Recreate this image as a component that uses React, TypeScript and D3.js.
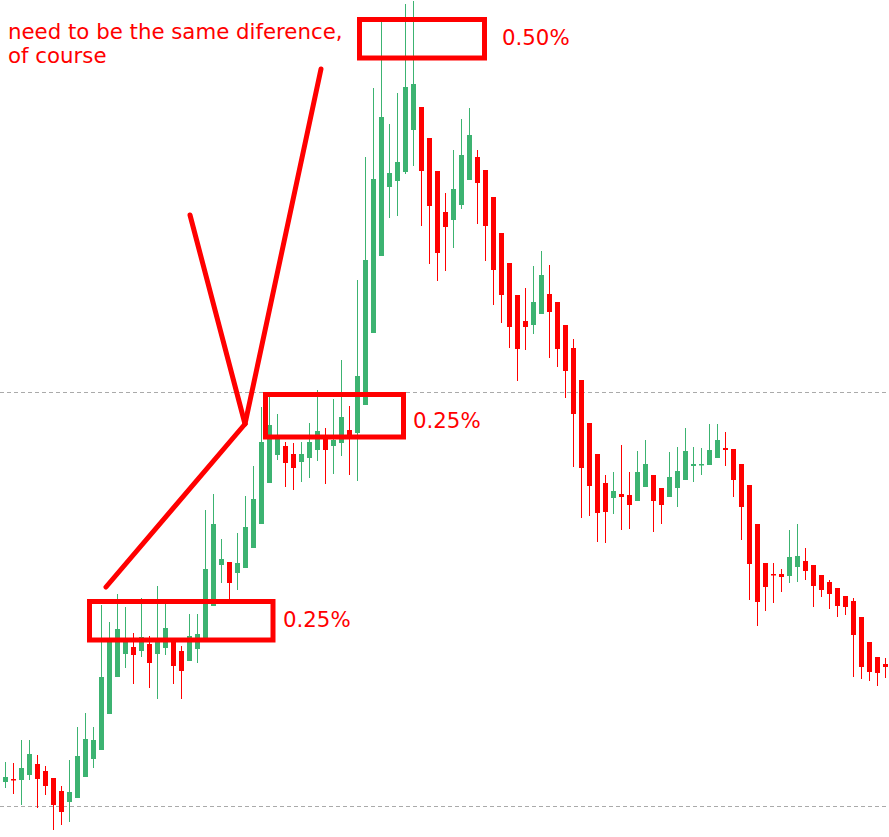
import React from "react";
import * as d3 from "d3";

// Candle values (price units, higher = up)
const opens = [55,58,57,62,73,66,59,46,35,39,60,78,87,123,160,183,190,186,193,183,189,196,186,176,188,199,231,272,275,264,269,289,313,354,382,391,383,375,379,387,398,391,394,407,404,432,504,581,650,656,665,707,730,699,666,625,617,632,657,680,667,640,604,574,542,516,512,523,543,535,512,489,457,414,383,354,339,343,342,336,350,362,349,340,349,357,371,372,372,379,389,388,373,352,313,274,263,263,261,270,276,272,262,255,249,241,236,220,195,180,173];
const highs = [75,74,97,97,82,71,59,51,77,110,124,110,232,215,243,230,204,239,201,251,234,197,191,223,223,327,343,298,275,304,341,371,430,440,423,395,394,395,414,447,409,438,477,431,557,680,749,815,713,744,833,836,730,699,666,644,687,718,729,687,667,640,604,574,542,549,571,586,572,535,512,498,457,414,383,362,365,392,365,386,397,362,349,385,390,409,390,389,413,413,405,388,373,352,313,274,274,268,307,313,289,272,262,257,249,241,239,220,195,180,179];
const lows = [49,43,32,57,29,42,7,12,15,39,60,69,87,123,160,169,153,180,149,138,182,153,138,176,174,199,231,254,237,247,269,289,313,354,377,350,347,355,359,376,353,363,381,362,356,432,504,581,619,621,663,671,611,573,556,566,589,628,657,613,576,532,514,489,456,487,503,523,479,470,439,370,319,321,295,294,323,307,308,336,350,305,313,340,330,357,355,362,372,379,371,340,297,237,211,226,234,245,254,255,257,230,240,228,220,222,160,158,156,151,159];
const closes = [60,57,69,83,58,51,32,25,45,81,98,97,160,195,208,195,182,200,174,197,209,171,166,201,203,268,313,278,254,274,310,338,395,412,402,374,369,383,395,406,387,397,420,400,461,577,658,720,664,675,750,753,666,631,584,610,648,682,702,654,611,567,542,510,488,510,535,562,525,488,466,423,369,351,324,325,346,340,332,365,373,336,332,360,366,386,373,373,387,397,387,357,330,273,235,250,262,260,280,281,266,251,247,243,231,230,202,170,165,164,170];

// Reference (dashed) price levels
const levels = [445, 31];

// Annotation texts
const noteLines = ["need to be the same diference,", "of course"];
const boxLabels = ["0.50%", "0.25%", "0.25%"];

const W = 889;
const H = 837;
const GREEN = "#3cb371";
const RED = "#ff0000";

export default function App() {
  const n = opens.length;
  const x = d3.scaleLinear().domain([0, n - 1]).range([5.5, 885.5]);
  const y = d3.scaleLinear().domain([0, H]).range([H, 0]);
  const bodyW = 5;

  const candles = d3.range(n).map((i) => {
    const o = opens[i], c = closes[i], h = highs[i], l = lows[i];
    const up = c > o;
    const color = up ? GREEN : RED;
    const cx = x(i);
    const top = y(Math.max(o, c));
    const bot = y(Math.min(o, c));
    return (
      <g key={i}>
        <line x1={cx} x2={cx} y1={y(h)} y2={y(l)} stroke={color} strokeWidth={1} />
        <rect x={cx - bodyW / 2} y={top} width={bodyW} height={Math.max(1.5, bot - top)} fill={color} />
      </g>
    );
  });

  const boxes = [
    { x: 359.5, y: 19.5, w: 125, h: 38.5, lx: 502, ly: 45 },
    { x: 265.5, y: 394.5, w: 138, h: 42.5, lx: 413, ly: 428 },
    { x: 89.5, y: 601.5, w: 183.5, h: 38.5, lx: 283, ly: 627 },
  ];

  return (
    <svg width={W} height={H} style={{ position: "absolute", left: 0, top: 0, background: "#fff" }}
      fontFamily="DejaVu Sans, sans-serif">
      <rect x={0} y={0} width={W} height={H} fill="#fff" />
      {levels.map((v, i) => (
        <line key={i} x1={0} x2={W} y1={Math.round(y(v)) + 0.5} y2={Math.round(y(v)) + 0.5}
          stroke="#aaaaaa" strokeWidth={1} strokeDasharray="4,3" />
      ))}
      {candles}
      {/* annotations */}
      <g stroke={RED} strokeWidth={5} strokeLinecap="round" fill="none">
        <line x1={106} y1={587} x2={245} y2={424} />
        <line x1={190} y1={215} x2={245} y2={424} />
        <line x1={245} y1={424} x2={321} y2={69} />
      </g>
      {boxes.map((b, i) => (
        <g key={i}>
          <rect x={b.x} y={b.y} width={b.w} height={b.h} fill="none" stroke={RED} strokeWidth={5} />
          <text x={b.lx} y={b.ly} fill={RED} fontSize={21.3}>{boxLabels[i]}</text>
        </g>
      ))}
      {noteLines.map((t, i) => (
        <text key={i} x={8} y={39 + i * 24} fill={RED} fontSize={21.3}>{t}</text>
      ))}
    </svg>
  );
}
